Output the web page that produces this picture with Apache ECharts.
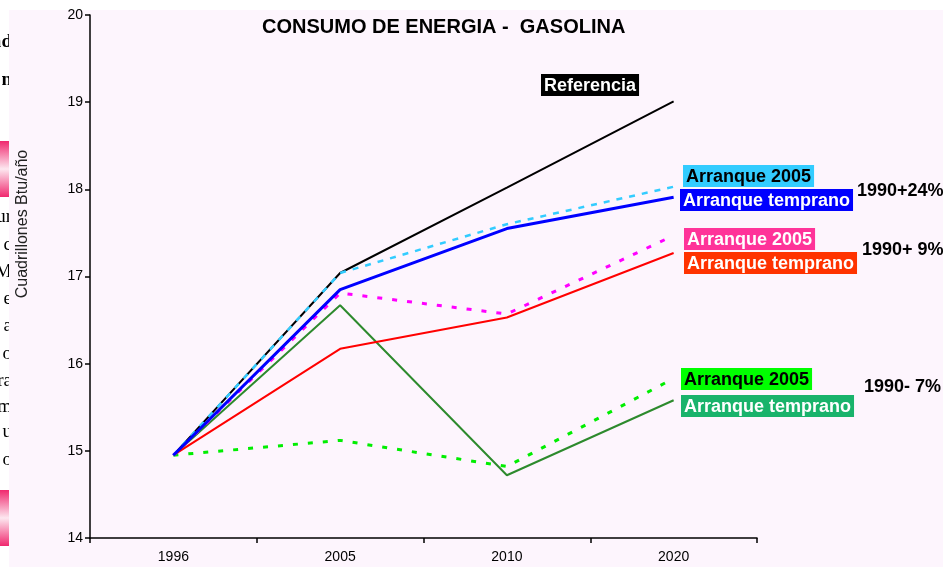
<!DOCTYPE html>
<html>
<head>
<meta charset="utf-8">
<script src="https://cdn.jsdelivr.net/npm/echarts@6/dist/echarts.min.js"></script>
<style>
html,body{margin:0;padding:0;background:#fff;}
#chart{width:951px;height:567px;}
</style>
</head>
<body>
<div id="chart"></div>
<script>
// ---- data ----
const years = ['1996', '2005', '2010', '2020'];
const referencia = [14.95, 17.04, 18.02, 19.01];
const plus24Arranque2005 = [14.95, 17.04, 17.6, 18.03];
const plus24Temprano = [14.95, 16.85, 17.55, 17.91];
const plus9Arranque2005 = [14.95, 16.81, 16.57, 17.47];
const plus9Temprano = [14.95, 16.17, 16.53, 17.27];
const minus7Arranque2005 = [14.95, 15.12, 14.82, 15.83];
const minus7Temprano = [14.95, 16.67, 14.72, 15.58];
const yTicks = { min: 14, max: 20, interval: 1 };
const titleText = 'CONSUMO DE ENERGIA -  GASOLINA';
const yName = 'Cuadrillones Btu/año';

const chart = echarts.init(document.getElementById('chart'), null, { renderer: 'canvas' });

const F = 'Liberation Sans, Arial, sans-serif';
const SERIF = 'Liberation Serif, Times New Roman, serif';

function line(name, data, color, width, type, z) {
  return {
    name, type: 'line', data, symbol: 'none', z: z,
    lineStyle: { color, width, type },
    emphasis: { disabled: true }
  };
}

function box(text, x, y, bg, fg) {
  return {
    type: 'text', z: 50, x, y,
    style: {
      text, font: 'bold 18px ' + F, fill: fg,
      backgroundColor: bg, padding: [2, 3, 0, 3], lineHeight: 20
    }
  };
}
function plain(text, x, y) {
  return {
    type: 'text', z: 50, x, y,
    style: { text, font: 'bold 18px ' + F, fill: '#000', verticalAlign: 'middle' }
  };
}
function frag(text, y, bold) {
  return {
    type: 'text', z: -20, x: 12, y,
    style: { text, font: (bold ? 'bold ' : '') + '19px ' + SERIF, fill: '#000', align: 'right', verticalAlign: 'middle' }
  };
}

const option = {
  animation: false,
  backgroundColor: '#ffffff',
  title: {
    text: titleText, left: 257, top: 12,
    textStyle: { fontFamily: F, fontWeight: 'bold', fontSize: 20, color: '#000' }
  },
  grid: { left: 90, right: 194, top: 15, bottom: 29, containLabel: false },
  xAxis: {
    type: 'category', data: years, boundaryGap: true,
    axisLine: { lineStyle: { color: '#000', width: 1.5 } },
    axisTick: { show: true, length: 5, lineStyle: { color: '#000', width: 1.5 } },
    axisLabel: { color: '#000', fontFamily: F, fontSize: 14, margin: 12 },
    splitLine: { show: false }
  },
  yAxis: {
    type: 'value', min: yTicks.min, max: yTicks.max, interval: yTicks.interval,
    axisLine: { show: true, lineStyle: { color: '#000', width: 1.5 } },
    axisTick: { show: true, length: 5, lineStyle: { color: '#000', width: 1.5 } },
    axisLabel: { color: '#000', fontFamily: F, fontSize: 14, margin: 7 },
    splitLine: { show: false }
  },
  series: [
    line('Referencia', referencia, '#000000', 2, 'solid', 3),
    line('1990- 7% Arranque temprano', minus7Temprano, '#2d8a2d', 2, 'solid', 4),
    line('1990- 7% Arranque 2005', minus7Arranque2005, '#00ee00', 3, [5, 10], 5),
    line('1990+ 9% Arranque temprano', plus9Temprano, '#ff0000', 2, 'solid', 6),
    line('1990+ 9% Arranque 2005', plus9Arranque2005, '#ff00ff', 3, [5, 10], 7),
    line('1990+24% Arranque 2005', plus24Arranque2005, '#33ccff', 2.5, [6, 7], 8),
    line('1990+24% Arranque temprano', plus24Temprano, '#0000ff', 3, 'solid', 9)
  ],
  graphic: [
    { type: 'rect', z: -10, shape: { x: 9, y: 10, width: 934, height: 557 }, style: { fill: '#fdf5fd' } },
    frag('nd', 42, true),
    frag('n', 80, true),
    { type: 'rect', z: -5, shape: { x: 0, y: 141, width: 9, height: 56 },
      style: { fill: new echarts.graphic.LinearGradient(0, 0, 0, 1, [
        { offset: 0, color: '#f0286e' }, { offset: 0.5, color: '#fde8f0' }, { offset: 1, color: '#f0286e' }]) } },
    frag('ur', 217), frag('c', 245), frag('M', 272), frag('e', 299), frag('a', 326),
    frag('o', 354), frag('ra', 381), frag('m', 407), frag('u', 432), frag('o', 460),
    { type: 'rect', z: -5, shape: { x: 0, y: 490, width: 9, height: 56 },
      style: { fill: new echarts.graphic.LinearGradient(0, 0, 0, 1, [
        { offset: 0, color: '#f0286e' }, { offset: 0.5, color: '#fde8f0' }, { offset: 1, color: '#f0286e' }]) } },
    frag('ía', 518, true),
    {
      type: 'text', z: 50, x: 23, y: 224, rotation: Math.PI / 2,
      style: { text: yName, font: '16px ' + F, fill: '#222', align: 'center', verticalAlign: 'middle' }
    },
    box('Referencia', 541, 74, '#000000', '#ffffff'),
    box('Arranque 2005', 683, 165, '#33ccff', '#000000'),
    box('Arranque temprano', 680, 189, '#0000ff', '#ffffff'),
    plain('1990+24%', 857, 191),
    box('Arranque 2005', 684, 228, '#ff3399', '#ffffff'),
    box('Arranque temprano', 684, 252, '#ff3300', '#ffffff'),
    plain('1990+ 9%', 862, 250),
    box('Arranque 2005', 681, 368, '#00ff00', '#000000'),
    box('Arranque temprano', 681, 395, '#19b36b', '#ffffff'),
    plain('1990- 7%', 864, 387)
  ]
};
chart.setOption(option);
</script>
</body>
</html>
